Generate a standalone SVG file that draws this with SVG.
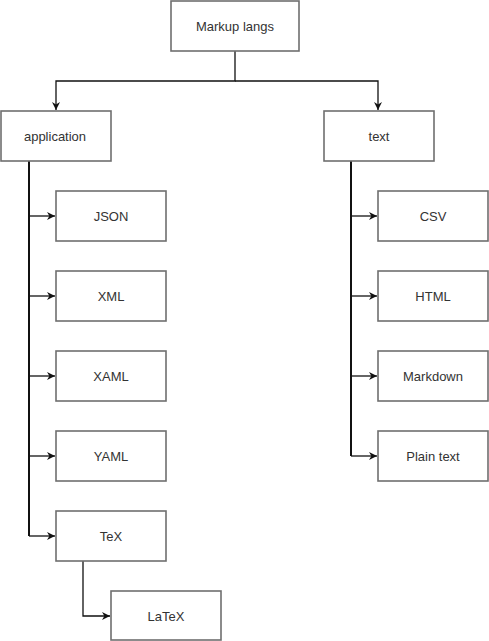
<svg xmlns="http://www.w3.org/2000/svg" width="489" height="641" viewBox="0 0 489 641">
  <style>
    .box { fill: #ffffff; stroke: #6f6f6f; stroke-width: 1.6; }
    .lbl { font-family: "Liberation Sans", Arial, sans-serif; font-size: 13px; fill: #333333; text-anchor: middle; dominant-baseline: central; }
    .edge { fill: none; stroke: #111111; stroke-width: 1.3; }
    .trunk { fill: none; stroke: #111111; stroke-width: 2; }
  </style>
  <defs>
    <marker id="arrow" viewBox="0 0 10 10" refX="10" refY="5" markerWidth="8" markerHeight="8" markerUnits="userSpaceOnUse" orient="auto">
      <path d="M0,0 L10,5 L0,10 L3,5 Z" fill="#111111"/>
    </marker>
  </defs>
  <rect width="489" height="641" fill="#ffffff"/>

  <g id="connectors">
    <path class="edge" d="M235,51 V81 H56 V110" marker-end="url(#arrow)"/>
    <path class="edge" d="M235,81 H378 V110" marker-end="url(#arrow)"/>
    <path class="trunk" d="M29,161 V536"/>
    <path class="edge" d="M29,216 H55" marker-end="url(#arrow)"/>
    <path class="edge" d="M29,296 H55" marker-end="url(#arrow)"/>
    <path class="edge" d="M29,376 H55" marker-end="url(#arrow)"/>
    <path class="edge" d="M29,456 H55" marker-end="url(#arrow)"/>
    <path class="edge" d="M29,536 H55" marker-end="url(#arrow)"/>
    <path class="edge" d="M83,561 V616 H110" marker-end="url(#arrow)"/>
    <path class="trunk" d="M351,161 V456"/>
    <path class="edge" d="M351,216 H377" marker-end="url(#arrow)"/>
    <path class="edge" d="M351,296 H377" marker-end="url(#arrow)"/>
    <path class="edge" d="M351,376 H377" marker-end="url(#arrow)"/>
    <path class="edge" d="M351,456 H377" marker-end="url(#arrow)"/>
  </g>

  <g id="markup-langs"><rect class="box" x="171" y="1" width="128" height="50"/><text class="lbl" x="235" y="26">Markup langs</text></g>
  <g id="application"><rect class="box" x="1" y="111" width="110" height="50"/><text class="lbl" x="55" y="136">application</text></g>
  <g id="text"><rect class="box" x="324" y="111" width="110" height="50"/><text class="lbl" x="379" y="136">text</text></g>

  <g id="json"><rect class="box" x="56" y="191" width="110" height="50"/><text class="lbl" x="111" y="216">JSON</text></g>
  <g id="xml"><rect class="box" x="56" y="271" width="110" height="50"/><text class="lbl" x="111" y="296">XML</text></g>
  <g id="xaml"><rect class="box" x="56" y="351" width="110" height="50"/><text class="lbl" x="111" y="376">XAML</text></g>
  <g id="yaml"><rect class="box" x="56" y="431" width="110" height="50"/><text class="lbl" x="111" y="456">YAML</text></g>
  <g id="tex"><rect class="box" x="56" y="511" width="110" height="50"/><text class="lbl" x="111" y="536">TeX</text></g>
  <g id="latex"><rect class="box" x="111" y="591" width="110" height="49"/><text class="lbl" x="166" y="616">LaTeX</text></g>

  <g id="csv"><rect class="box" x="378" y="191" width="110" height="50"/><text class="lbl" x="433" y="216">CSV</text></g>
  <g id="html"><rect class="box" x="378" y="271" width="110" height="50"/><text class="lbl" x="433" y="296">HTML</text></g>
  <g id="markdown"><rect class="box" x="378" y="351" width="110" height="50"/><text class="lbl" x="433" y="376">Markdown</text></g>
  <g id="plain-text"><rect class="box" x="378" y="431" width="110" height="50"/><text class="lbl" x="433" y="456">Plain text</text></g>
</svg>
